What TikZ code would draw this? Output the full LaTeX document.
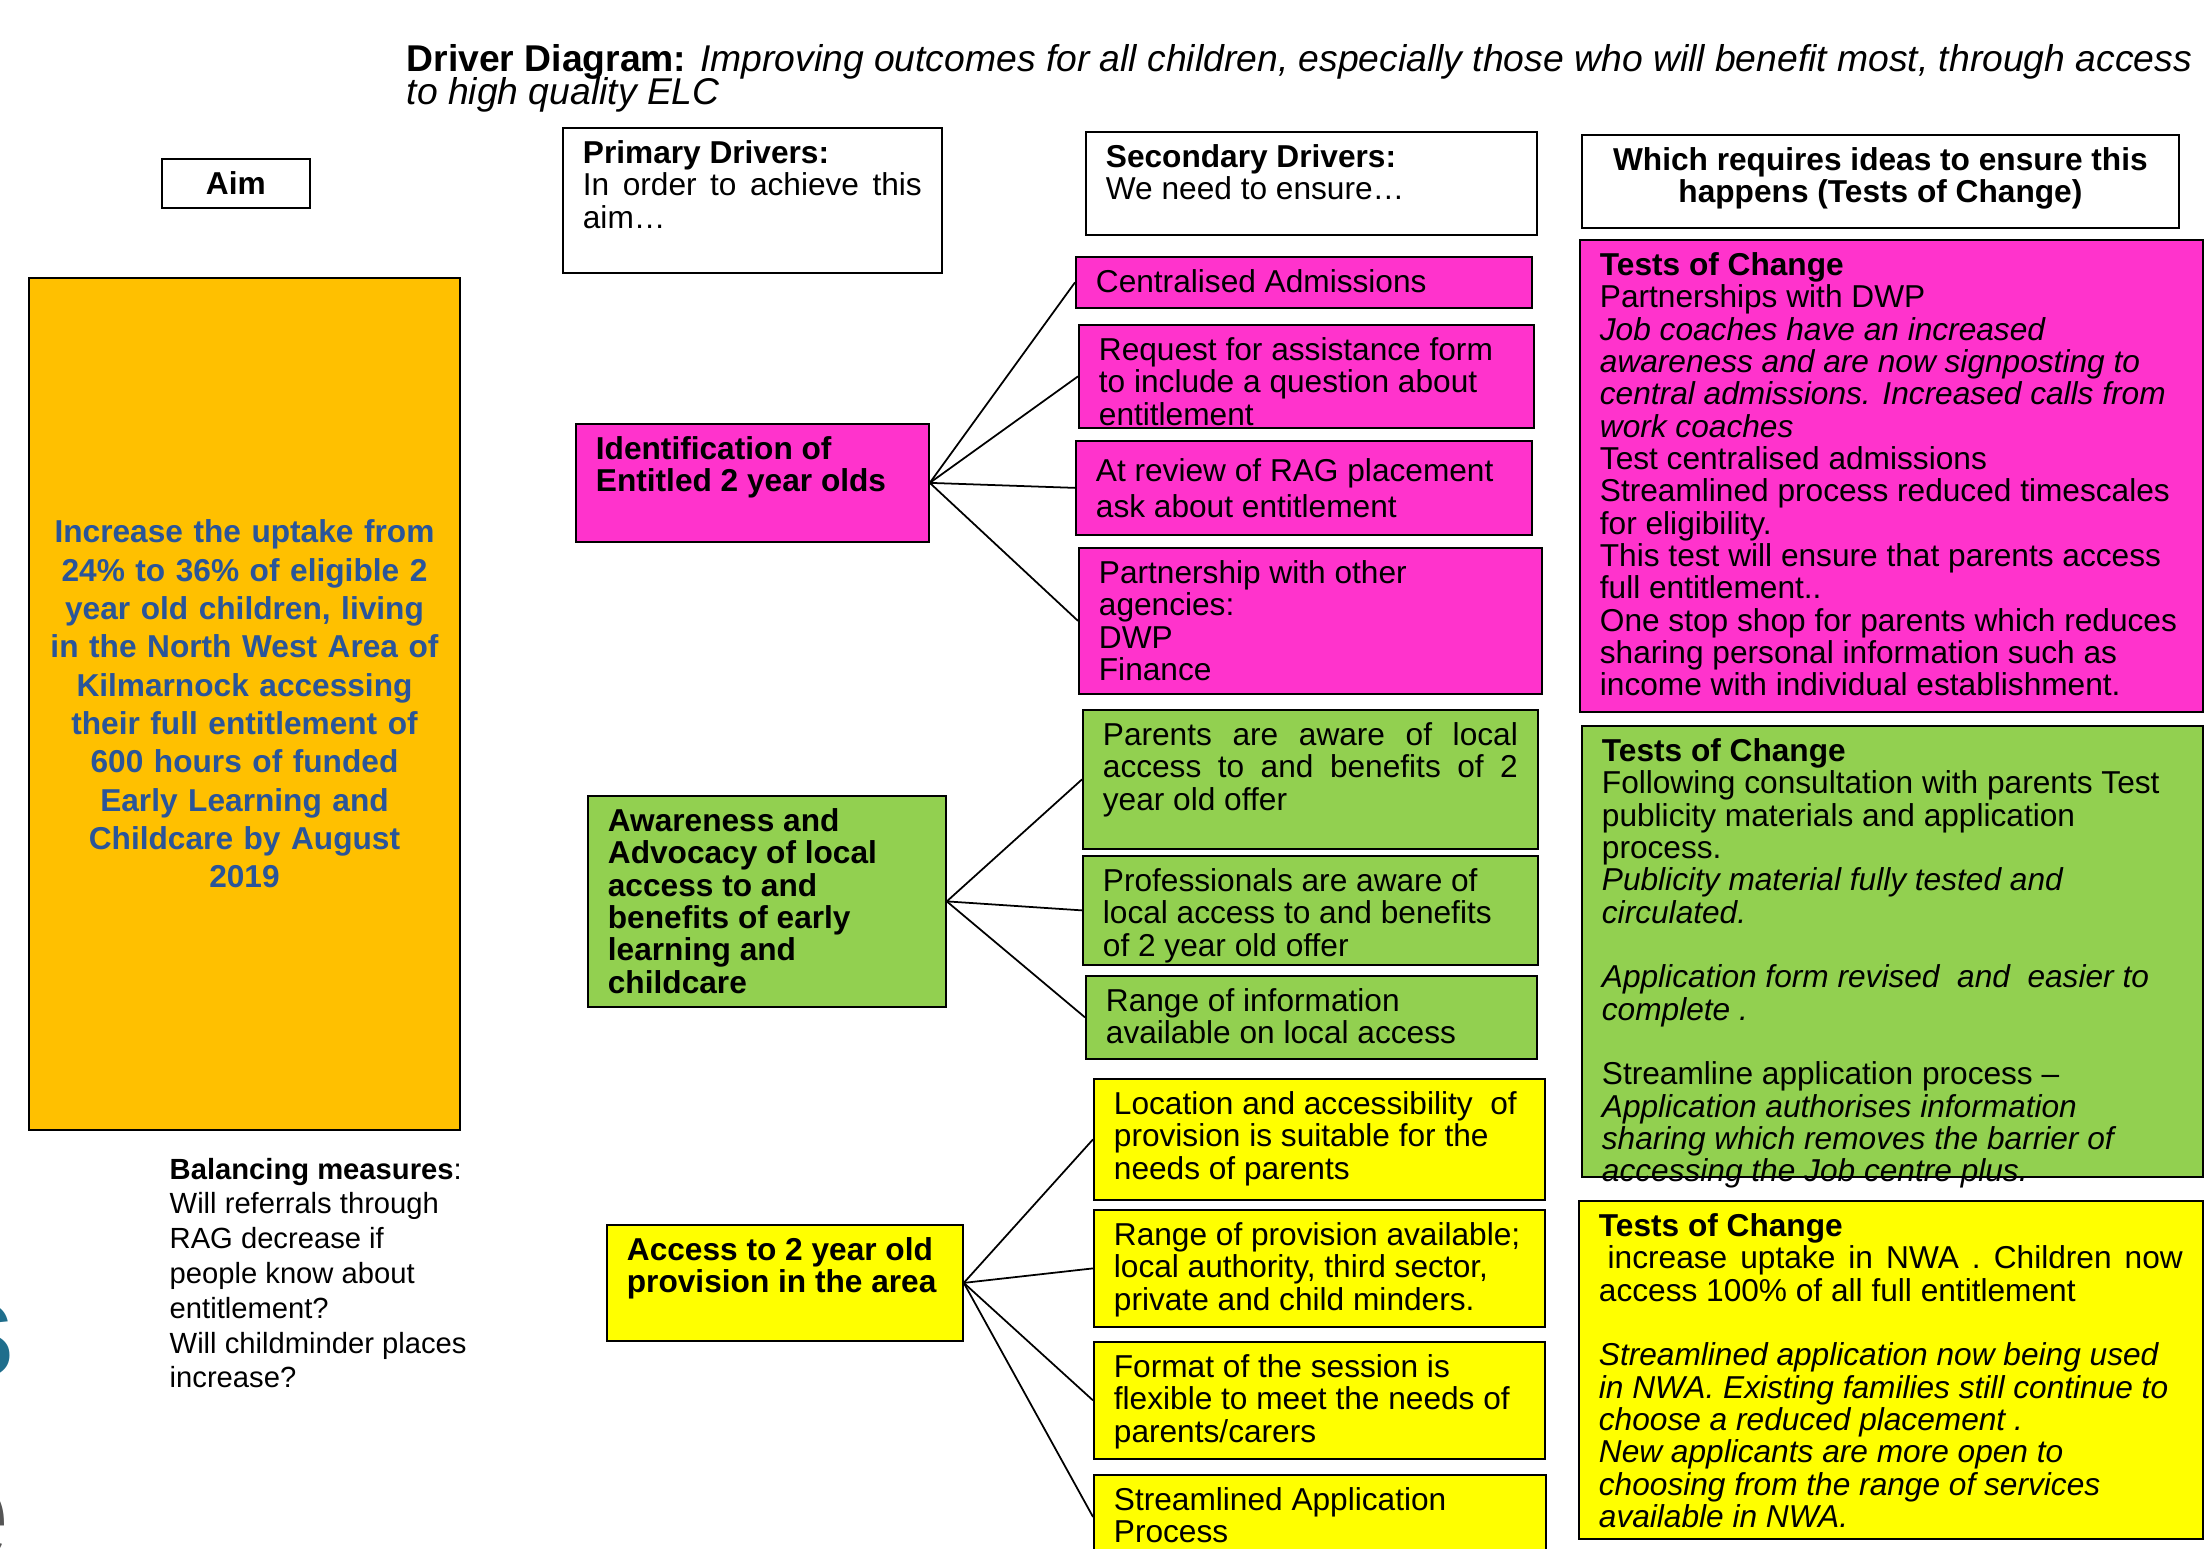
\documentclass[tikz,border=0pt]{standalone}
\usepackage{fontspec}
\setmainfont{Liberation Sans}
\usepackage{tikz}

\definecolor{drvpink}{HTML}{FF33CC}
\definecolor{drvgreen}{HTML}{92D050}
\definecolor{drvyellow}{HTML}{FFFF00}
\definecolor{aimorange}{HTML}{FFC000}
\definecolor{aimblue}{HTML}{2A5599}
\definecolor{logoteal}{HTML}{1F6E8C}
\definecolor{logogrey}{HTML}{555555}

\newlength{\pxu}
\setlength{\pxu}{0.01cm}
\newcommand{\bodyfont}{\fontsize{9}{9.2}\selectfont}
\newcommand{\titlefont}{\fontsize{10.6}{9.3}\selectfont}
\newcommand{\aimfont}{\fontsize{9}{10.9}\selectfont\bfseries}
\newcommand{\balfont}{\fontsize{8.3}{9.9}\selectfont}
% box text: width and height in pixels, text at the top
\newcommand{\tbox}[3]{\parbox[t][\dimexpr#2\pxu-7pt\relax][t]{\dimexpr#1\pxu-0.4cm\relax}{\lineskiplimit=-5pt\relax\rightskip=0pt minus 0.15cm\relax\rule{0pt}{6.6pt}#3}}

\begin{document}
\begin{tikzpicture}[x=0.01cm, y=-0.01cm,
    drvbox/.style={draw, line width=0.5pt, anchor=north west, inner xsep=0.2cm, inner ysep=3.5pt, font=\bodyfont},
    pinkbox/.style={drvbox, fill=drvpink},
    greenbox/.style={drvbox, fill=drvgreen},
    yellowbox/.style={drvbox, fill=drvyellow},
    hdrbox/.style={drvbox, fill=white},
    prim/.style={font=\bodyfont\bfseries},
    conn/.style={line width=0.5pt}]
    \useasboundingbox (0,0) rectangle (2209,1549);

    % draw title
    \node[anchor=base west, inner sep=0, font=\titlefont] (title) at (406,72)
      {\parbox[t]{30cm}{\lineskiplimit=-5pt\relax\textbf{Driver Diagram:} \textit{Improving outcomes for all children, especially those who will benefit most, through access\\to high quality ELC}}};

    % draw column headers
    \node[hdrbox] (aimhdr) at (161,158) {\tbox{148}{49}{\centering\textbf{Aim}}};
    \node[hdrbox] (pdhdr)  at (562,127) {\tbox{379}{145}{\textbf{Primary Drivers:}\\In order to achieve this\linebreak aim…}};
    \node[hdrbox] (sdhdr)  at (1085,131) {\tbox{451}{103}{\textbf{Secondary Drivers:}\\We need to ensure…}};
    \node[hdrbox] (tochdr) at (1581,134) {\tbox{597}{93}{\centering\textbf{Which requires ideas to ensure this\\happens (Tests of Change)}}};

    % draw aim
    \node[drvbox, anchor=center, fill=aimorange, text=aimblue, font=\aimfont, text width=3.9cm, align=center,
          minimum width=4.27cm, minimum height=8.52cm] (aim) at (244.5,704)
      {Increase the uptake from\\24\% to 36\% of eligible 2\\year old children, living\\in the North West Area of\\Kilmarnock accessing\\their full entitlement of\\600 hours of funded\\Early Learning and\\Childcare by August\\2019};

    \node[anchor=base west, inner sep=0, font=\balfont] (bal) at (169,1179)
      {\parbox[t]{4cm}{\textbf{Balancing measures}:\\Will referrals through\\RAG decrease if\\people know about\\entitlement?\\Will childminder places\\increase?}};

    % draw primary drivers
    \node[pinkbox, prim]   (ident)  at (575,423)  {\tbox{353}{118}{Identification of\\Entitled 2 year olds}};
    \node[greenbox, prim]  (aware)  at (587,795)  {\tbox{358}{211}{Awareness and\\Advocacy of local\\access to and\\benefits of early\\learning and\\childcare}};
    \node[yellowbox, prim] (access) at (606,1224) {\tbox{356}{116}{Access to 2 year old\\provision in the area}};

    % draw secondary drivers
    \node[pinkbox] (cadm)    at (1075,256) {\tbox{456}{51}{Centralised Admissions}};
    \node[pinkbox] (request) at (1078,324) {\tbox{455}{103}{Request for assistance form\\to include a question about\\entitlement}};
    \node[pinkbox] (review)  at (1075,440) {\tbox{456}{94}{\rule{0pt}{8pt}At review of RAG placement\\[1.2pt]ask about entitlement}};
    \node[pinkbox] (partner) at (1078,547) {\tbox{463}{146}{Partnership with other\\agencies:\\DWP\\Finance}};

    \node[greenbox] (parents) at (1082,709) {\tbox{455}{139}{Parents are aware of local\linebreak access to and benefits of 2\linebreak year old offer}};
    \node[greenbox] (profs)   at (1082,855) {\tbox{455}{109}{Professionals are aware of\\local access to and benefits\\of 2 year old offer}};
    \node[greenbox] (rinfo)   at (1085,975) {\tbox{451}{83}{Range of information\\available on local access}};

    \node[yellowbox] (locat)  at (1093,1078) {\tbox{451}{121}{Location and accessibility~ of\\provision is suitable for the\\needs of parents}};
    \node[yellowbox] (rprov)  at (1093,1209) {\tbox{451}{117}{Range of provision available;\\local authority, third sector,\\private and child minders.}};
    \node[yellowbox] (fmt)    at (1093,1341) {\tbox{451}{117}{Format of the session is\\flexible to meet the needs of\\parents/carers}};
    \node[yellowbox] (stream) at (1093,1474) {\tbox{452}{84}{Streamlined Application\\Process}};

    % draw tests of change
    \node[pinkbox] (tocpink) at (1579,239) {\tbox{623}{472}{\textbf{Tests of Change}\\
      Partnerships with DWP\\
      \textit{Job coaches have an increased\\awareness and are now signposting to\\central admissions. Increased calls from\\work coaches}\\
      Test centralised admissions\\
      Streamlined process reduced timescales\\
      for eligibility.\\
      This test will ensure that parents access\\
      full entitlement..\\
      One stop shop for parents which reduces\\
      sharing personal information such as\\
      income with individual establishment.}};

    \node[greenbox] (tocgreen) at (1581,725) {\tbox{621}{451}{\textbf{Tests of Change}\\
      Following consultation with parents Test\\
      publicity materials and application\\
      process.\\
      \textit{Publicity material fully tested and\\circulated.}\\[9.2pt]
      \textit{Application form revised~ and~ easier to\\complete .}\\[9.2pt]
      Streamline application process –\\
      \textit{Application authorises information\\sharing which removes the barrier of\\accessing the Job centre plus.}}};

    \node[yellowbox] (tocyellow) at (1578,1200) {\tbox{624}{338}{\textbf{Tests of Change}\\
      \hspace*{2.5pt}increase uptake in NWA . Children now\linebreak
      access 100\% of all full entitlement\\[9.2pt]
      \textit{Streamlined application now being used\\in NWA. Existing families still continue to\\choose a reduced placement .\\New applicants are more open to\\choosing from the range of services\\available in NWA.}}};

    % draw connectors
    \foreach \s in {cadm,request,review,partner}
    \draw[conn] (ident.east) -- (\s.west);
    \foreach \s in {parents,profs,rinfo}
    \draw[conn] (aware.east) -- (\s.west);
    \foreach \s in {locat,rprov,fmt,stream}
    \draw[conn] (access.east) -- (\s.west);

    % logo pieces at the left edge
    \node[anchor=base east, inner sep=0, text=logoteal, font=\fontsize{40}{40}\selectfont\bfseries] (logos) at (16,1377) {s};
    \node[anchor=base east, inner sep=0, text=logogrey, font=\fontsize{40}{40}\selectfont] (logoe) at (11,1560) {e};
\end{tikzpicture}
\end{document}
